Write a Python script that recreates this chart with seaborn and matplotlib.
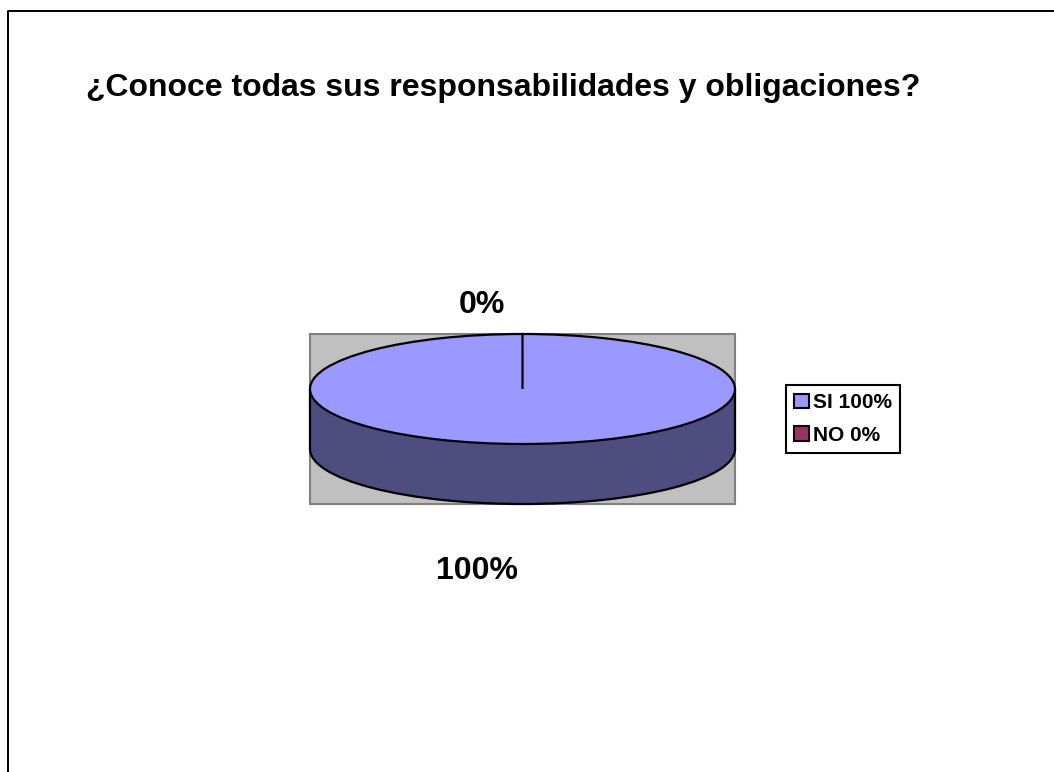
import matplotlib
matplotlib.use("Agg")
import matplotlib.pyplot as plt
import seaborn as sns
from matplotlib.patches import Rectangle
from matplotlib.lines import Line2D

categories = ["SI", "NO"]
values = [100, 0]
legend_labels = ["SI 100%", "NO 0%"]
title_text = "¿Conoce todas sus responsabilidades y obligaciones?"
top_colors = ["#9999FF", "#993366"]
side_color = "#4D4D80"

sns.set_theme(style="white")
plt.rcParams["font.family"] = ["Liberation Sans", "DejaVu Sans"]

W, H = 1054, 772
fig = plt.figure(figsize=(W / 100, H / 100), dpi=100, facecolor="white")

def box(l, t, r, b):
    return [l / W, 1 - b / H, (r - l) / W, (b - t) / H]

# slide frame
fig.add_artist(Line2D([8.3 / W, 8.3 / W, 1], [0, 1 - 11 / H, 1 - 11 / H], color="black", lw=1.4))

ax = fig.add_axes(box(310, 334, 735, 504))
ry_px, depth_px = 55, 60
depth = depth_px / ry_px
edge = dict(edgecolor="black", linewidth=1.6)

low, _ = ax.pie(values, colors=[side_color] * 2, startangle=90, counterclock=False,
                radius=1, center=(0, -depth), wedgeprops=edge, normalize=True)
for w in low:
    w.set_clip_on(False)
    w.set_zorder(1.3)
ax.add_patch(Rectangle((-1, -depth), 2, depth, facecolor=side_color, edgecolor="none", zorder=1.5))
ax.plot([-1, -1], [0, -depth], color="black", lw=1.6, zorder=2, solid_capstyle="round", clip_on=False)
ax.plot([1, 1], [0, -depth], color="black", lw=1.6, zorder=2, solid_capstyle="round", clip_on=False)
wedges, _ = ax.pie(values, colors=top_colors, startangle=90, counterclock=False,
                   radius=1, center=(0, 0), wedgeprops=edge, normalize=True)
for w in wedges:
    w.set_zorder(3)
    w.set_clip_on(False)

ax.set_aspect("auto")
ax.set_xlim(-1, 1)
ax.set_ylim(-(ry_px + depth_px) / ry_px, 1)
ax.set_frame_on(True)
ax.set_facecolor("#C0C0C0")
for s in ax.spines.values():
    s.set_visible(True)
    s.set_color("#808080")
    s.set_linewidth(1.5)
    s.set_zorder(1.2)

fig.text(86 / W, 1 - 88 / H, title_text, fontsize=23, fontweight="bold", color="black",
         ha="left", va="center")
fig.text(482 / W, 1 - 304.5 / H, f"{values[1]}%", fontsize=23, fontweight="bold", color="black",
         ha="center", va="center")
fig.text(476.5 / W, 1 - 571 / H, f"{values[0]}%", fontsize=23, fontweight="bold", color="black",
         ha="center", va="center")

handles = [Rectangle((0, 0), 1, 1, facecolor=c, edgecolor="black", linewidth=1.5) for c in top_colors]
leg = fig.legend(handles, legend_labels, loc="center left",
                 bbox_to_anchor=(786 / W, 1 - 419 / H), borderaxespad=0,
                 prop=dict(size=15, weight="bold"), frameon=True, fancybox=False,
                 edgecolor="black", framealpha=1, handlelength=0.68, handleheight=0.68,
                 handletextpad=0.2, labelspacing=0.66, borderpad=0.4, labelcolor="black")
leg.get_frame().set_linewidth(1.5)

fig.savefig("out.png", dpi=100, facecolor="white")
